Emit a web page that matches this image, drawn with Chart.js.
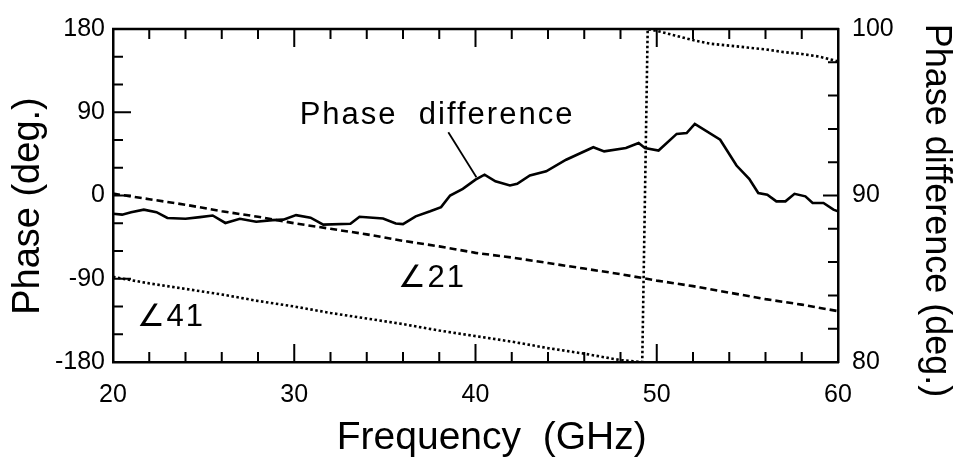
<!DOCTYPE html>
<html><head><meta charset="utf-8">
<script src="https://cdn.jsdelivr.net/npm/chart.js@4.4.0/dist/chart.umd.min.js"></script>
<style>html,body{margin:0;padding:0;background:#fff;}#wrap{width:958px;height:462px;position:relative;}</style>
</head><body><div id="wrap"><canvas id="c" width="958" height="462"></canvas></div>
<script>
// ---- data ----
const freqPD = [20.0,20.5,21.0,21.7,22.4,23.0,24.0,24.8,25.5,26.2,27.0,27.9,28.8,29.4,30.1,30.9,31.6,33.1,33.6,34.9,35.6,36.0,36.7,37.5,38.1,38.6,39.3,40.0,40.5,41.1,41.9,42.3,43.0,43.9,45.0,46.5,47.1,48.3,49.0,49.35,50.1,51.1,51.65,52.1,53.5,54.4,55.1,55.6,56.1,56.6,57.1,57.6,58.2,58.6,59.2,59.75,60.0];
const phaseDiff = [88.9,88.85,89.0,89.15,89.0,88.65,88.6,88.7,88.8,88.35,88.6,88.42,88.52,88.55,88.82,88.67,88.25,88.3,88.72,88.62,88.32,88.28,88.75,89.05,89.3,90.0,90.4,90.95,91.25,90.85,90.6,90.7,91.2,91.45,92.15,92.9,92.65,92.85,93.15,92.85,92.7,93.7,93.75,94.3,93.35,91.8,91.0,90.15,90.05,89.65,89.65,90.1,89.95,89.55,89.55,89.15,89.05];

const freq21 = [20,22,24,26,28,30,32,34,36,38,40,42,44,46,48,50,52,54,56,58,60];
const phase21 = [2,-4,-10,-17,-23,-30,-36,-42,-49,-55,-62,-67,-73,-79,-85,-92,-98,-105,-112,-118,-125];

const freq41 = [20,22,24,26,28,30,32,34,36,38,40,42,44,46,48,49.2,49.5,50,51,52,53,54,55,56,57,58,59,60];
const phase41 = [-88,-95,-101,-107,-114,-120,-127,-133,-139,-146,-152,-158,-165,-171,-178,-180,180,178,173,168,164,162,160,158,155,153,150,145];

const leaderFreq = [38.5, 40.05];
const leaderVal = [93.8, 91.1];

// tick marks (inward)
const xTickVals = [20,22,24,26,28,30,32,34,36,38,40,42,44,46,48,50,52,54,56,58,60];
const xMajorVals = [20,30,40,50,60];
const yTickVals = [-180,-150,-120,-90,-60,-30,0,30,60,90,120,150,180];
const yMajorVals = [-180,-90,0,90,180];
const y2TickVals = [80,82,84,86,88,90,92,94,96,98,100];
const y2MajorVals = [80,90,100];

// annotation texts
const notes = [
  {text:'Phase  difference', fx:30.3, v:94.3, axis:'y2'},
  {text:'\u222021', fx:35.7, v:-99, axis:'y'},
  {text:'\u222041', fx:21.3, v:-141, axis:'y'}
];

const FAMILY = '"Liberation Sans", Arial, Helvetica, sans-serif';
const pts = (xs, ys) => xs.map((f,i)=>({x:f, y:ys[i]}));

const frameTicks = {
  id:'frameTicks',
  afterDatasetsDraw(chart){
    const {ctx, chartArea:a, scales} = chart;
    const x = scales.x, y = scales.y, y2 = scales.y2;
    ctx.save();
    ctx.strokeStyle = '#000';
    ctx.lineWidth = 2.5;
    ctx.beginPath(); ctx.moveTo(a.left-1, a.top); ctx.lineTo(a.right+1, a.top); ctx.stroke();
    ctx.lineWidth = 2;
    ctx.beginPath();
    for (const f of xTickVals){
      const px = x.getPixelForValue(f);
      const L = xMajorVals.includes(f) ? 18 : 10;
      ctx.moveTo(px, a.bottom); ctx.lineTo(px, a.bottom - L);
      ctx.moveTo(px, a.top); ctx.lineTo(px, a.top + L);
    }
    for (const v of yTickVals){
      const py = y.getPixelForValue(v);
      const L = yMajorVals.includes(v) ? 18 : 10;
      ctx.moveTo(a.left, py); ctx.lineTo(a.left + L, py);
    }
    for (const d of y2TickVals){
      const py = y2.getPixelForValue(d);
      const L = y2MajorVals.includes(d) ? 15 : 10;
      ctx.moveTo(a.right, py); ctx.lineTo(a.right - L, py);
    }
    ctx.stroke();
    // annotation texts
    ctx.fillStyle = '#000';
    ctx.textBaseline = 'alphabetic';
    ctx.textAlign = 'left';
    try { ctx.letterSpacing = '2px'; } catch(e) {}
    for (const n of notes){
      ctx.font = '31px ' + FAMILY;
      const sc = n.axis === 'y2' ? y2 : y;
      ctx.fillText(n.text, x.getPixelForValue(n.fx), sc.getPixelForValue(n.v));
    }
    ctx.restore();
  }
};

const tickFont = {family: FAMILY, size: 25};

new Chart(document.getElementById('c'), {
  type:'line',
  data:{
    datasets:[
      {label:'Phase difference', data: pts(freqPD, phaseDiff), yAxisID:'y2', borderColor:'#000', borderWidth:2.6, pointRadius:0, tension:0, fill:false},
      {label:'leader', data: pts(leaderFreq, leaderVal), yAxisID:'y2', borderColor:'#000', borderWidth:1.8, pointRadius:0, fill:false},
      {label:'\u222021', data: pts(freq21, phase21), yAxisID:'y', borderColor:'#000', borderWidth:2.6, borderDash:[7,4], pointRadius:0, fill:false},
      {label:'\u222041', data: pts(freq41, phase41), yAxisID:'y', borderColor:'#000', borderWidth:2.6, borderDash:[2.5,2.5], pointRadius:0, fill:false}
    ]
  },
  options:{
    responsive:false, animation:false, devicePixelRatio:1,
    layout:{padding:{top:19,left:0,right:0,bottom:0}},
    plugins:{legend:{display:false}, tooltip:{enabled:false}},
    scales:{
      x:{type:'linear', position:'bottom', min:20, max:60,
        ticks:{stepSize:10, color:'#000', font:tickFont, padding:18, maxRotation:0, autoSkip:false},
        grid:{display:false, drawTicks:false},
        border:{display:true, color:'#000', width:2.5},
        title:{display:true, text:'   Frequency  (GHz)', color:'#000', font:{family:FAMILY, size:39, lineHeight:1.2}, padding:{top:0,bottom:0}},
        afterFit(s){ s.height = 100; }
      },
      y:{type:'linear', position:'left', min:-180, max:180,
        ticks:{stepSize:90, color:'#000', font:tickFont, padding:8},
        grid:{display:false, drawTicks:false},
        border:{display:true, color:'#000', width:2.5},
        title:{display:true, text:'Phase (deg.)  ', color:'#000', font:{family:FAMILY, size:38, lineHeight:1.2}, padding:{top:6,bottom:0}},
        afterFit(s){ s.width = 113; }
      },
      y2:{type:'linear', position:'right', min:80, max:100,
        ticks:{stepSize:10, color:'#000', font:tickFont, padding:14},
        grid:{display:false, drawTicks:false},
        border:{display:true, color:'#000', width:2.5},
        title:{display:true, text:'   Phase difference (deg.)', color:'#000', font:{family:FAMILY, size:36, lineHeight:1.2}, padding:{top:0,bottom:0}},
        afterFit(s){ s.width = 120; }
      }
    }
  },
  plugins:[frameTicks]
});
</script>
</body></html>
